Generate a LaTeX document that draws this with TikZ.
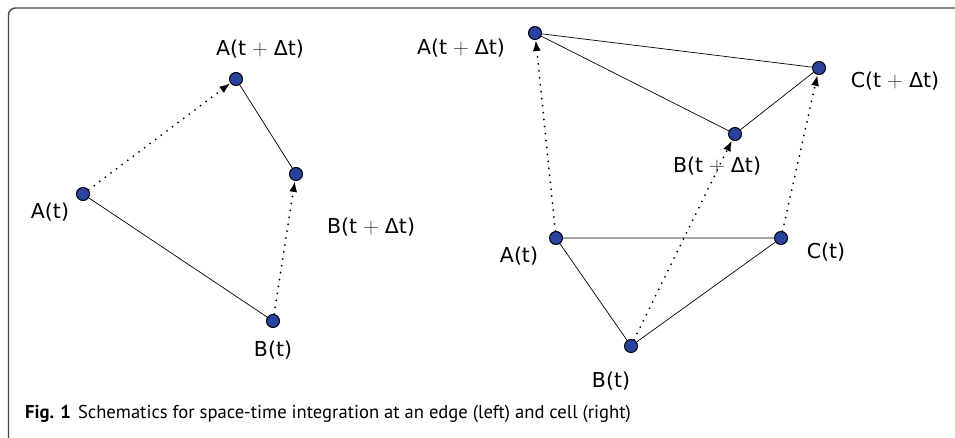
\documentclass[tikz,border=0pt]{standalone}
\usepackage{fontspec}
\setmainfont{DejaVu Sans}
\newfontfamily\capfont{PT Sans}
\newfontfamily\lmrfont{Latin Modern Roman}
\usetikzlibrary{arrows.meta}
\definecolor{dotblue}{RGB}{42,66,160}
\definecolor{framegray}{RGB}{70,70,70}
\definecolor{plusgray}{RGB}{60,60,60}
\newcommand{\tpd}{(t\hspace{6pt}{\lmrfont\fontsize{22}{24}\selectfont\color{plusgray}+}\hspace{6pt}Δt)}
\tikzset{
  pt/.style={circle,draw=black,fill=dotblue,line width=1pt,minimum size=13pt,inner sep=0pt},
  lbl/.style={font=\fontsize{20.5}{24}\selectfont,inner sep=0pt},
  edge/.style={line width=0.7pt},
  move/.style={line width=2pt,dash pattern=on 0pt off 7pt,line cap=round,
    -{Latex[length=11pt,width=8pt,line cap=butt]},shorten >=0pt}
}
\begin{document}
\begin{tikzpicture}[x=1pt,y=-1pt]
\useasboundingbox (0,0) rectangle (955,438);
\fill[white] (0,0) rectangle (955,438);
% frame around the figure
\draw[framegray,line width=1.4pt,rounded corners=7pt] (8.5,445) -- (8.5,8) -- (965,8);

% ---- edge (left) ----
\node[pt] (lAt)  at (83,194) {};
\node[pt] (lBt)  at (273,321) {};
\node[pt] (lAd)  at (236,79) {};
\node[pt] (lBd)  at (296,174) {};
\node[lbl] at (260,49) {A\tpd};
\node[lbl] at (371,227) {B\tpd};
\node[lbl] at (50,212) {A(t)};
\node[lbl] at (273,350) {B(t)};
\draw[edge] (lAt) -- (lBt);
\draw[edge] (lAd) -- (lBd);
\draw[move] (lAt) -- (lAd);
\draw[move] (lBt) -- (lBd);

% ---- cell (right) ----
\node[pt] (rAt) at (556,238) {};
\node[pt] (rBt) at (631,346) {};
\node[pt] (rCt) at (781,238) {};
\node[pt] (rAd) at (535,33) {};
\node[pt] (rBd) at (735,134) {};
\node[pt] (rCd) at (819,68) {};
\node[lbl] at (461,48) {A\tpd};
\node[lbl] at (895,81) {C\tpd};
\node[lbl] at (717,166) {B\tpd};
\node[lbl] at (519,256) {A(t)};
\node[lbl] at (826,252) {C(t)};
\node[lbl] at (611,381) {B(t)};
\draw[edge] (rAt) -- (rCt) -- (rBt) -- (rAt);
\draw[edge] (rAd) -- (rCd) -- (rBd) -- (rAd);
\draw[move] (rAt) -- (rAd);
\draw[move] (rBt) -- (rBd);
\draw[move] (rCt) -- (rCd);

% caption
\node[anchor=west,inner sep=0pt,font=\capfont\fontsize{18.6}{21}\selectfont] (cap) at (25,414)
  {\textbf{Fig. 1}\hspace{7pt}Schematics for space-time integration at an edge (left) and cell (right)};
\end{tikzpicture}
\end{document}
